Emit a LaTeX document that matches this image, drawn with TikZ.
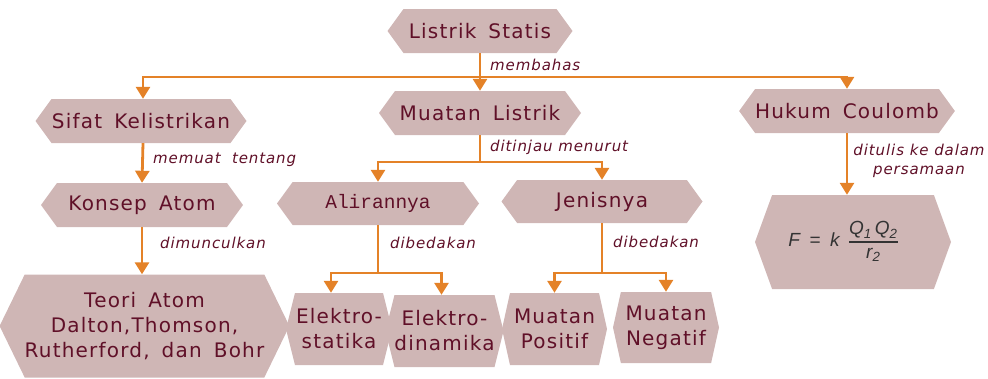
\documentclass[tikz,border=0pt]{standalone}
\usepackage{fontspec}
\setmainfont{DejaVu Sans}[LetterSpace=6,WordSpace=1.6]
\newfontfamily\ketfont{DejaVu Sans}[LetterSpace=6]
\newfontfamily\monofont{Liberation Mono}
\newfontfamily\formulafont{Liberation Sans}
\usetikzlibrary{shapes.symbols,arrows.meta}
\definecolor{boxfill}{RGB}{207,182,181}
\definecolor{textred}{RGB}{96,16,40}
\definecolor{linkorange}{RGB}{228,130,40}
\setlength{\arrayrulewidth}{1.2pt}

\begin{document}
\begin{tikzpicture}[x=1pt,y=-1pt,
    box/.style={signal, signal to=east and west, signal pointer angle=#1,
      fill=boxfill, text=textred, inner sep=0pt, align=center,
      font=\fontsize{20}{25}\selectfont},
    box/.default=108,
    ket/.style={font=\fontsize{15}{19}\ketfont\itshape, text=textred,
      inner sep=0pt, align=center},
    link/.style={draw=linkorange, line width=2.8pt},
    arr/.style={link, -{Triangle[width=14pt,length=12pt]}}]
  \useasboundingbox (0,0) rectangle (988,378);

  % boxes
  \node[box, minimum width=185pt, minimum height=44pt] (ls) at (480,31) {Listrik Statis};
  \node[box, minimum width=211pt, minimum height=44pt] (sk) at (141,121) {Sifat Kelistrikan};
  \node[box, minimum width=202pt, minimum height=44pt] (ml) at (480,113) {Muatan Listrik};
  \node[box, minimum width=215pt, minimum height=44pt] (hc) at (847,111) {Hukum Coulomb};
  \node[box, minimum width=202pt, minimum height=44pt] (ka) at (142,205) {Konsep Atom};
  \node[box, minimum width=202pt, minimum height=43pt, font=\fontsize{19.5}{24}\monofont] (al) at (378,203.5) {Alirannya};
  \node[box, minimum width=201pt, minimum height=43pt] (jn) at (602,201.5) {Jenisnya};
  \node[box=128, minimum width=272pt, minimum height=103pt] (ta) at (144.5,326) {Teori Atom\\Dalton,Thomson,\\Rutherford, dan Bohr};
  \node[box=152, minimum width=106pt, minimum height=72pt] (es) at (339,329) {Elektro-\\statika};
  \node[box=152, minimum width=105pt, minimum height=72pt] (ed) at (444.5,331) {Elektro-\\dinamika};
  \node[box=155, minimum width=105pt, minimum height=72pt] (mp) at (554.5,329) {Muatan\\Positif};
  \node[box=155, minimum width=106pt, minimum height=71pt] (mn) at (666,327.5) {Muatan\\Negatif};
  \node[box=140, minimum width=196pt, minimum height=94pt, text=black!80,
    font=\fontsize{19}{22}\formulafont\itshape] (fm) at (853,242)
    {\hspace*{-20pt}F\enspace=\enspace k\enspace\begin{tabular}{@{}c@{}}Q\textsubscript{1}\,Q\textsubscript{2}\\\hline r\textsubscript{2}\end{tabular}};

  % labels
  \node[ket, anchor=west] (k1) at (490,65) {membahas};
  \node[ket, anchor=west] (k2) at (153,160) {memuat\ \ tentang};
  \node[ket, anchor=west] (k3) at (490,147) {ditinjau menurut};
  \node[ket] (k4) at (919,161) {ditulis ke dalam\\persamaan};
  \node[ket, anchor=west] (k5) at (160,243) {dimunculkan};
  \node[ket, anchor=west] (k6) at (390,243) {dibedakan};
  \node[ket, anchor=west] (k7) at (613,242) {dibedakan};

  % branch points
  \coordinate (b0) at (480,77);
  \coordinate (b1) at (480,162);
  \coordinate (b2) at (378,273);
  \coordinate (b3) at (602,273);

  % connectors
  \draw[arr] (ls.south) -- (ml.north);
  \draw[arr] (b0) -| ([xshift=2pt]sk.north);
  \draw[arr] (b0) -| (hc.north);
  \draw[arr] ([xshift=2pt]sk.south) -- (ka.north);
  \draw[arr] (ka.south) -- (ka.south |- ta.north);
  \draw[link] (ml.south) -- (b1);
  \draw[arr] (b1) -| (al.north);
  \draw[arr] (b1) -| (jn.north);
  \draw[link] (al.south) -- (b2);
  \draw[arr] (b2) -| ([xshift=-8pt]es.north);
  \draw[arr] (b2) -| ([xshift=-3pt]ed.north);
  \draw[link] (jn.south) -- (b3);
  \draw[arr] (b3) -| (mp.north);
  \draw[arr] (b3) -| (mn.north);
  \draw[arr] (hc.south) -- (hc.south |- fm.north);
\end{tikzpicture}
\end{document}
